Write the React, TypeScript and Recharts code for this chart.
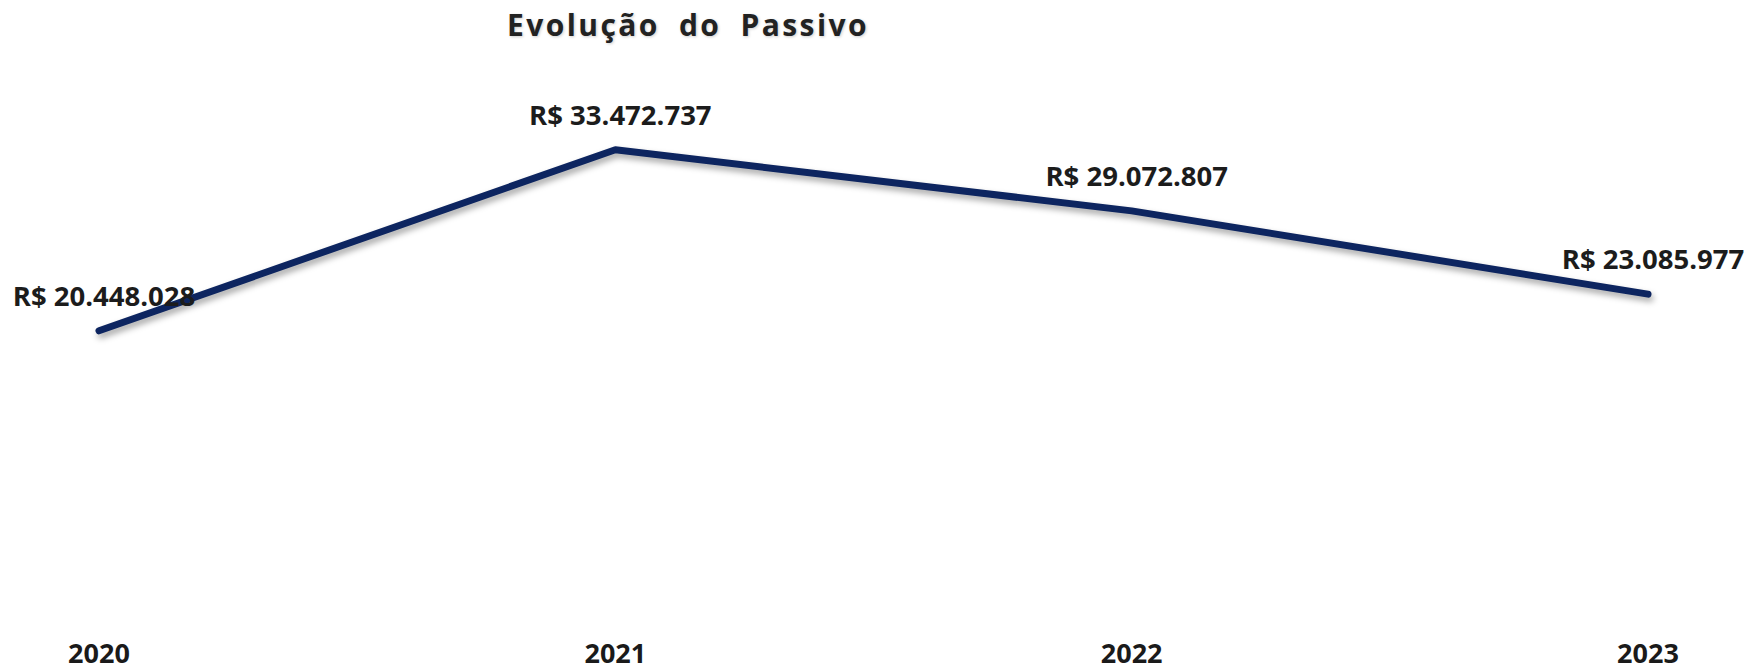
import { LineChart, Line, XAxis, YAxis, LabelList } from "recharts";

const years = ["2020", "2021", "2022", "2023"];
const passivo = [20448028, 33472737, 29072807, 23085977];
const labels = ["R$ 20.448.028", "R$ 33.472.737", "R$ 29.072.807", "R$ 23.085.977"];

const data = years.map((year, i) => ({ year, value: passivo[i], label: labels[i] }));

const FONT = "'Open Sans', sans-serif";

function ValueLabel(props: any) {
  const { x, y, value } = props;
  return (
    <text
      x={x + 5}
      y={y - 25}
      textAnchor="middle"
      fontFamily={FONT}
      fontWeight={700}
      fontSize={27.5}
      fill="#1c1c1c"
    >
      {value}
    </text>
  );
}

export default function App() {
  return (
    <div
      style={{
        position: "fixed",
        left: 0,
        top: 0,
        width: 1749,
        height: 671,
        background: "#ffffff",
        overflow: "hidden",
      }}
    >
      <style>{`.passivo-line .recharts-line-curve { filter: drop-shadow(2px 4px 3px rgba(0,0,0,0.35)); }`}</style>
      <div
        style={{
          position: "absolute",
          left: 688,
          top: 10,
          transform: "translateX(-50%)",
          fontFamily: FONT,
          fontWeight: 700,
          fontSize: 30,
          lineHeight: "30px",
          letterSpacing: 2.4,
          wordSpacing: 9,
          color: "#222222",
          whiteSpace: "nowrap",
          textShadow: "1px 1px 3px rgba(0,0,0,0.2)",
        }}
      >
        Evolução do Passivo
      </div>
      <LineChart
        width={1749}
        height={671}
        data={data}
        margin={{ top: 59, right: 101, bottom: 0, left: 99 }}
      >
        <XAxis
          dataKey="year"
          axisLine={false}
          tickLine={false}
          tickSize={0}
          tickMargin={29}
          height={56}
          tick={{ fontFamily: FONT, fontWeight: 700, fontSize: 27, fill: "#1a1a1a" }}
        />
        <YAxis hide domain={[0, 40000000]} />
        <Line
          className="passivo-line"
          type="linear"
          dataKey="value"
          stroke="#0d2560"
          strokeWidth={7}
          strokeLinecap="round"
          strokeLinejoin="round"
          dot={false}
          activeDot={false}
          isAnimationActive={false}
        >
          <LabelList dataKey="label" content={ValueLabel} />
        </Line>
      </LineChart>
    </div>
  );
}
